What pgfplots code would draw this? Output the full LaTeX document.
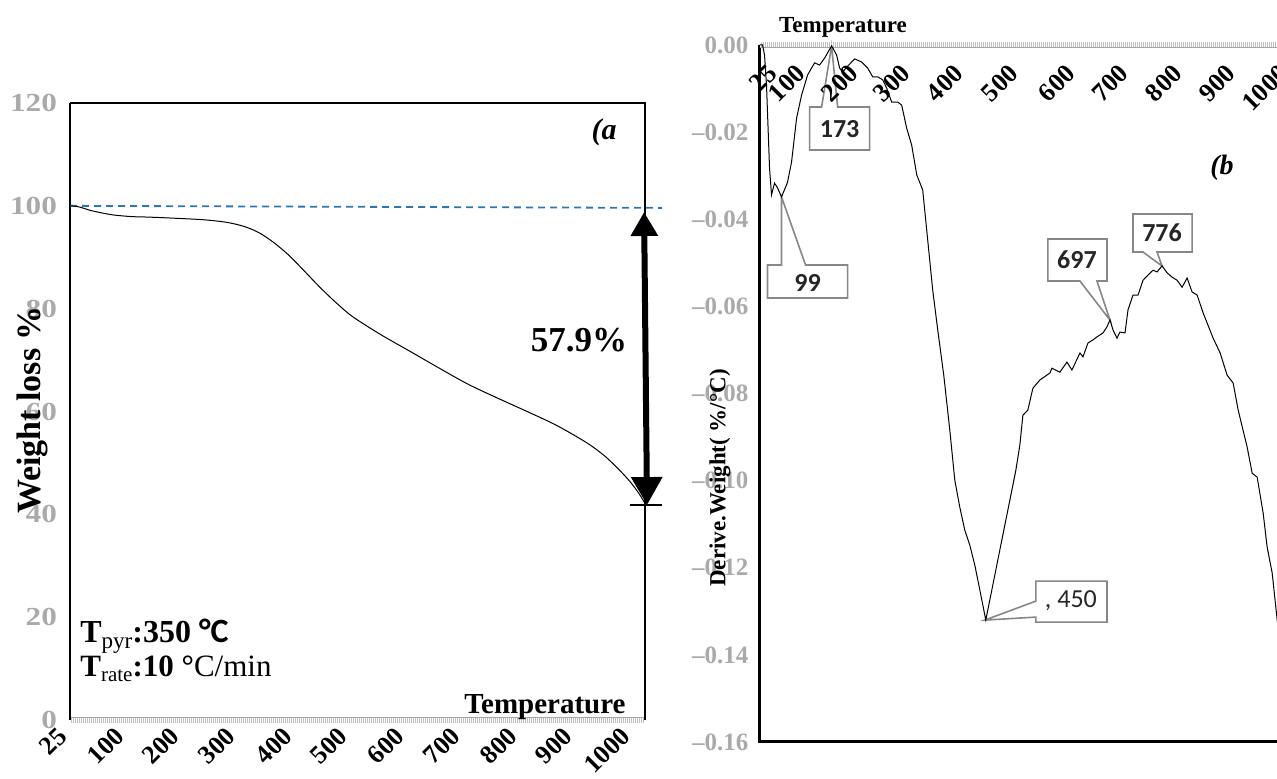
\documentclass[border=0pt]{standalone}
\usepackage{fontspec}
\setmainfont{Liberation Serif}
\newfontfamily\calib{Carlito}
\newfontfamily\stretchserif[FakeStretch=1.2]{Liberation Serif}
\usepackage{pgfplots}
\pgfplotsset{compat=1.18}
\usetikzlibrary{arrows.meta}
\definecolor{tickgray}{RGB}{170,170,170}
\definecolor{exblue}{RGB}{46,117,182}
\definecolor{cgray}{RGB}{135,135,135}
\newcommand{\rp}[2]{(axis cs:{25+((#1)-760)/0.5374},{-((#2)-45)*0.0002296})}
\begin{document}
\begin{tikzpicture}
% ---------------- left panel (a)
\begin{axis}[
  at={(35pt,29.5pt)}, anchor=south west, scale only axis,
  width=287.5pt, height=308.5pt,
  xmin=25, xmax=1000, ymin=0, ymax=120,
  axis line style={draw=none}, clip=false,
  xtick={25,121.7,214.9,309.9,406.5,499.8,596.5,691.4,788.1,881.4,979.7},
  xticklabels={25,100,200,300,400,500,600,700,800,900,1000},
  ytick={0,20,40,60,80,100,120},
  yticklabels={0,20,40,60,80,100,120},
  major tick length=0pt,
  xticklabel style={font=\bfseries\fontsize{13}{15}\selectfont, xshift=-6.9pt, yshift=2pt, rotate=45, anchor=north east},
  yticklabel style={font={\stretchserif\bfseries\fontsize{13}{15}\selectfont}, text=tickgray, anchor=east, xshift=-3pt},
]
\draw[gray!50, line width=2.6pt] (rel axis cs:0,0) -- (rel axis cs:1,0);
\draw[white, line width=2.6pt, dash pattern=on 0.3pt off 0.7pt] (rel axis cs:0,0) -- (rel axis cs:1,0);
\draw[gray!70, line width=0.5pt] ([yshift=1.3pt]rel axis cs:0,0) -- ([yshift=1.3pt]rel axis cs:1,0);
\draw[black, line width=1.4pt] (rel axis cs:0,0) -- (rel axis cs:0,1);
\draw[black, line width=0.9pt] (rel axis cs:0,1) -- (rel axis cs:1,1) -- (rel axis cs:1,0);
\addplot[exblue, line width=0.9pt, dash pattern=on 3.5pt off 2.5pt] coordinates {(25,100) (1029,99.6)};
\addplot[black, line width=0.5pt, smooth] coordinates {
(25,100) (40,99.8) (60,99.1) (80,98.6) (100,98.2) (130,97.9) (160,97.8) (200,97.6)
(250,97.3) (290,96.8) (320,96.0) (345,94.8) (370,92.9) (395,90.5) (420,87.6)
(445,84.6) (470,81.8) (500,78.8) (530,76.5) (560,74.4) (600,71.8) (650,68.5)
(700,65.3) (750,62.6) (800,60.0) (850,57.3) (900,54.0) (930,51.5) (955,48.8)
(975,46.3) (990,44.0) (1000,42.1)};
\draw[black, line width=3pt, {Triangle[length=12pt,width=13pt]}-{Triangle[length=14pt,width=15pt]}]
  (axis cs:998.4,98.8) -- (axis cs:1003.4,41.8);
\draw[black, line width=0.8pt] (axis cs:975,41.8) -- (axis cs:1028,41.8);
\end{axis}
% ---------------- right panel (b)
\begin{axis}[
  set layers,
  at={(379.75pt,18.5pt)}, anchor=south west, scale only axis,
  width=270.4pt, height=348.5pt,
  xmin=25, xmax=1030, ymin=-0.16, ymax=0,
  axis line style={draw=none}, clip=false,
  xtick={61.2,113.3,211.8,308.5,407.1,509.3,615.2,713.8,814.1,912.7,1011},
  xticklabels={25,100,200,300,400,500,600,700,800,900,1000},
  xticklabel pos=upper,
  ytick={-0.16,-0.14,-0.12,-0.10,-0.08,-0.06,-0.04,-0.02,0},
  yticklabels={\textendash0.16,\textendash0.14,\textendash0.12,\textendash0.10,\textendash0.08,\textendash0.06,\textendash0.04,\textendash0.02,0.00},
  major tick length=0pt,
  xticklabel style={font=\bfseries\fontsize{13}{15}\selectfont, xshift=-6.4pt, yshift=-4.2pt, rotate=45, anchor=north east},
  yticklabel style={font=\bfseries\fontsize{12.5}{14}\selectfont, text=tickgray, anchor=east, xshift=-2pt},
]
\draw[black, line width=1.5pt] (rel axis cs:0,1) -- (rel axis cs:0,0) -- (rel axis cs:1,0);
\draw[gray!50, line width=2.6pt] (rel axis cs:0,1) -- (rel axis cs:1,1);
\draw[white, line width=2.6pt, dash pattern=on 0.3pt off 0.7pt] (rel axis cs:0,1) -- (rel axis cs:1,1);
\draw[gray!70, line width=0.5pt] ([yshift=-1.3pt]rel axis cs:0,1) -- ([yshift=-1.3pt]rel axis cs:1,1);
\addplot[black, line width=0.5pt] coordinates {
(25,0) (30.6,0) (34.3,-0.0023) (38,-0.0092) (43.6,-0.0282) (47.3,-0.0344) (52.9,-0.0317)
(58.5,-0.0328) (65.9,-0.0349) (77.1,-0.0315) (84.5,-0.0269) (93.9,-0.0168) (103.2,-0.0115)
(114.3,-0.0069) (127.3,-0.0041) (136.6,-0.0046) (146,-0.0030) (159,-0.0002) (168.3,-0.0023)
(173.9,-0.0053) (179.5,-0.0062) (186.9,-0.0051) (201.8,-0.0032) (214.8,-0.0039) (226,-0.0053)
(235.3,-0.0073) (244.6,-0.0073) (253.9,-0.0080) (261.3,-0.0099) (270.6,-0.0131) (281.8,-0.0131)
(289.2,-0.0138) (298.5,-0.0191) (307.8,-0.0230) (317.2,-0.0298) (328.3,-0.0333) (337.6,-0.0448)
(346.9,-0.0563) (356.2,-0.0654) (367.4,-0.0758) (378.6,-0.0884) (387.9,-0.0999) (397.2,-0.1061)
(406.5,-0.1114) (415.8,-0.1148) (425.1,-0.1194) (434.4,-0.1251) (445.5,-0.1320) (456.7,-0.1251)
(467.9,-0.1182) (480.9,-0.1102) (490.2,-0.1045) (501.4,-0.0976) (508.8,-0.0918) (514.4,-0.0850)
(523.7,-0.0838) (533,-0.0788) (546,-0.0769) (564.6,-0.0753) (568.4,-0.0742) (583.2,-0.0751)
(596.3,-0.0728) (605.6,-0.0746) (620.5,-0.0707) (626.1,-0.0716) (635.4,-0.0684) (644.7,-0.0677)
(652.1,-0.0670) (663.3,-0.0661) (670.7,-0.0647) (676.3,-0.0631) (681.9,-0.0654) (689.3,-0.0673)
(694.9,-0.0659) (704.2,-0.0661) (709.8,-0.0608) (719.1,-0.0574) (728.4,-0.0574) (737.7,-0.0540)
(747,-0.0528) (756.3,-0.0517) (763.8,-0.0521) (773.1,-0.0507) (782.4,-0.0523) (791.7,-0.0533)
(801,-0.0540) (810.3,-0.0556) (819.6,-0.0535) (828.9,-0.0567) (838.2,-0.0574) (849.4,-0.0615)
(868,-0.0673) (881,-0.0707) (894,-0.0758) (905.2,-0.0776) (914.5,-0.0838) (931.2,-0.0923)
(940.5,-0.0983) (949.8,-0.0992) (961,-0.1075) (968.4,-0.1153) (977.7,-0.1212) (987,-0.1320)
(1000,-0.146)};
% callouts (background layer, below tick labels)
\begin{pgfonlayer}{axis background}
\draw[cgray, line width=0.8pt, fill=white] \rp{810}{107} -- \rp{822}{107} -- \rp{832}{46} -- \rp{838}{107} -- \rp{870}{107} -- \rp{870}{150} -- \rp{810}{150} -- cycle;
\node[font={\calib\bfseries\fontsize{13}{15}\selectfont}, text=black!85] at \rp{840}{129} {173};
\draw[cgray, line width=0.8pt, fill=white] \rp{768}{265} -- \rp{782}{265} -- \rp{782}{197} -- \rp{806}{265} -- \rp{848}{265} -- \rp{848}{298} -- \rp{768}{298} -- cycle;
\node[font={\calib\bfseries\fontsize{13}{15}\selectfont}, text=black!85] at \rp{808}{283} {99};
\draw[cgray, line width=0.8pt, fill=white] \rp{1048}{239} -- \rp{1107}{239} -- \rp{1107}{281} -- \rp{1097}{281} -- \rp{1110}{320} -- \rp{1080}{281} -- \rp{1048}{281} -- cycle;
\node[font={\calib\bfseries\fontsize{13}{15}\selectfont}, text=black!85] at \rp{1077}{260} {697};
\draw[cgray, line width=0.8pt, fill=white] \rp{1133}{214} -- \rp{1192}{214} -- \rp{1192}{252} -- \rp{1157}{252} -- \rp{1162}{266} -- \rp{1143}{252} -- \rp{1133}{252} -- cycle;
\node[font={\calib\bfseries\fontsize{13}{15}\selectfont}, text=black!85] at \rp{1162}{233} {776};
\draw[cgray, line width=0.8pt, fill=white] \rp{1036}{581} -- \rp{1107}{581} -- \rp{1107}{622} -- \rp{1036}{622} -- \rp{1036}{617} -- \rp{985}{620} -- \rp{1036}{601} -- cycle;
\node[font={\calib\fontsize{13}{15}\selectfont}, text=black!85] at \rp{1071}{601} {, 450};
\end{pgfonlayer}
\end{axis}
% ---------------- texts
\node[font=\bfseries\fontsize{17.5}{19}\selectfont] at (289.5pt,219.5pt) {57.9\%};
\node[font=\bfseries\itshape\fontsize{15}{17}\selectfont] at (302pt,323.5pt) {(a};
\node[font=\bfseries\fontsize{17}{19}\selectfont, rotate=90] at (16pt,184.5pt) {Weight loss \%};
\node[font=\bfseries\fontsize{14.5}{16}\selectfont] at (272.5pt,36pt) {Temperature};
\node[anchor=base west, font=\fontsize{16}{18}\selectfont, inner sep=0pt] at (40pt,68pt)
  {\textbf{T}\raisebox{-0.35ex}{\fontsize{11.5}{13}\selectfont pyr}\textbf{:350 }{\calib\bfseries\fontsize{17}{19}\selectfont °C}};
\node[anchor=base west, font=\fontsize{15.5}{18}\selectfont, inner sep=0pt] at (40pt,51pt)
  {\textbf{T}\raisebox{-0.35ex}{\fontsize{10.5}{12}\selectfont rate}\textbf{:10 °}C/min};
\node[font=\bfseries\fontsize{11.5}{13}\selectfont] at (421.5pt,376pt) {Temperature};
\node[font=\bfseries\fontsize{11.5}{13}\selectfont, rotate=90] at (360pt,150.5pt) {Derive.Weight( \%/°C)};
\node[font=\bfseries\itshape\fontsize{14}{16}\selectfont] at (611pt,305.5pt) {(b};
\pgfresetboundingbox
\useasboundingbox (0,0) rectangle (638.5pt,389.5pt);
\end{tikzpicture}
\end{document}
